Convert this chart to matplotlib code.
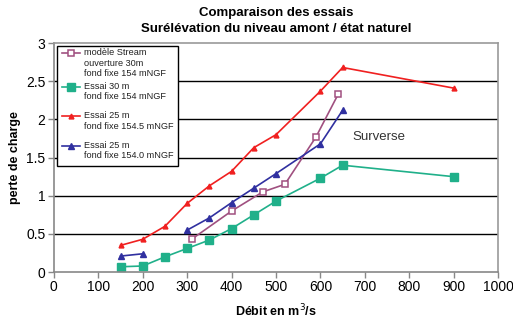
import numpy as np
import matplotlib.pyplot as plt
from matplotlib.lines import Line2D
from matplotlib.patches import Rectangle

# data
x_stream = [310, 400, 470, 520, 590, 640]
y_stream = [0.43, 0.80, 1.05, 1.15, 1.77, 2.33]

x_e30 = [150, 200, 250, 300, 350, 400, 450, 500, 600, 650, 900]
y_e30 = [0.07, 0.08, 0.20, 0.31, 0.42, 0.57, 0.75, 0.93, 1.23, 1.40, 1.25]

x_e25a = [150, 200, 250, 300, 350, 400, 450, 500, 600, 650, 900]
y_e25a = [0.35, 0.43, 0.60, 0.90, 1.13, 1.32, 1.63, 1.80, 2.37, 2.68, 2.41]

x_e25b = [150, 200, 250, 300, 350, 400, 450, 500, 600, 650]
y_e25b = [0.21, 0.24, np.nan, 0.55, 0.71, 0.91, 1.10, 1.29, 1.68, 2.12]

labels = ['modèle Stream\nouverture 30m\nfond fixe 154 mNGF',
          'Essai 30 m\nfond fixe 154 mNGF',
          'Essai 25 m\nfond fixe 154.5 mNGF',
          'Essai 25 m\nfond fixe 154.0 mNGF']

plt.rcParams['font.family'] = ['Liberation Sans', 'DejaVu Sans']

fig = plt.figure(figsize=(5.13, 3.19), dpi=100)
ax = fig.add_axes([0.105, 0.147, 0.866, 0.718])

styles = [
    dict(color='#a05080', lw=1.2, marker='s', ms=5, mfc='white',
         mec='#a05080', mew=1.1),
    dict(color='#20b08a', lw=1.2, marker='s', ms=5.5),
    dict(color='#f02020', lw=1.2, marker='^', ms=3.5),
    dict(color='#3030a0', lw=1.2, marker='^', ms=4),
]
series = [(x_stream, y_stream), (x_e30, y_e30), (x_e25a, y_e25a), (x_e25b, y_e25b)]
for (xs, ys), st in zip(series, styles):
    ax.plot(xs, ys, **st)

ax.set_xlim(0, 1000)
ax.set_ylim(0, 3)
ax.set_xticks(np.arange(0, 1001, 100))
ax.set_yticks([0, 0.5, 1, 1.5, 2, 2.5, 3])
ax.set_yticklabels(['0', '0.5', '1', '1.5', '2', '2.5', '3'])
for yv in [0.5, 1, 1.5, 2, 2.5]:
    ax.axhline(yv, color='black', lw=1.0, zorder=0)

for s in ax.spines.values():
    s.set_color('#999999')
    s.set_linewidth(1.2)
ax.spines['left'].set_color('#888888')
ax.spines['bottom'].set_color('#888888')
ax.tick_params(direction='out', length=4, width=1, color='#888888',
               labelsize=10, pad=2)

ax.set_xlabel('Débit en m$^3$/s', fontsize=9, fontweight='bold', labelpad=6)
ax.set_ylabel('perte de charge', fontsize=9, fontweight='bold')
ax.set_title('Comparaison des essais\nSurélévation du niveau amont / état naturel',
             fontsize=9.5, fontweight='bold', pad=8, linespacing=1.45)

ax.text(673, 1.77, 'Surverse', fontsize=9.5, va='center', color='#333333')

# legend drawn by hand so the marker sits on the first line of each label
ax.add_patch(Rectangle((0.007, 0.463), 0.272, 0.524, transform=ax.transAxes,
                       facecolor='white', edgecolor='black', lw=1.0, zorder=5))
tops = [0.955, 0.81, 0.68, 0.55]
for top, lab, st in zip(tops, labels, styles):
    ax.add_line(Line2D([0.018, 0.038, 0.058], [top, top, top],
                       transform=ax.transAxes, markevery=[1], zorder=6, **st))
    ax.text(0.068, top + 0.022, lab, transform=ax.transAxes, fontsize=6.6,
            va='top', ha='left', linespacing=1.2, zorder=7, color='#222222')

fig.savefig('out.png', dpi=100)
